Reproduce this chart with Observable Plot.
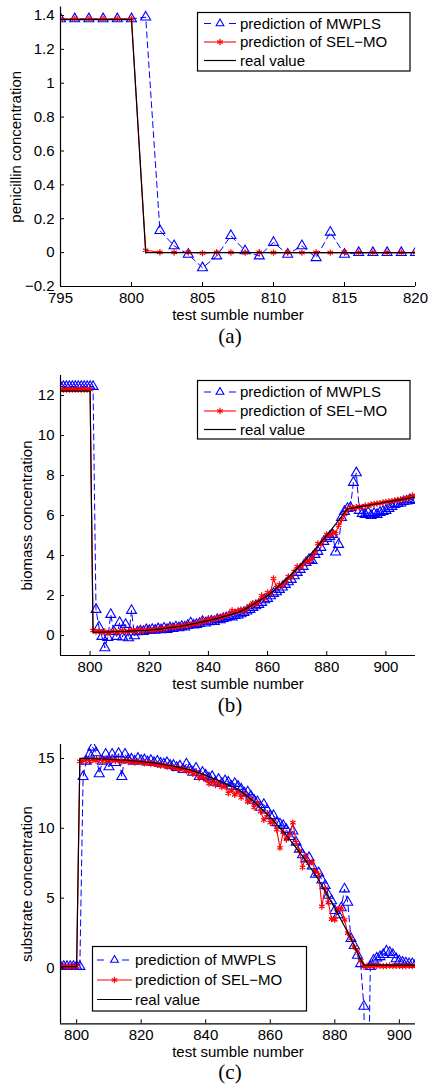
<!DOCTYPE html>
<html><head><meta charset="utf-8">
<script src="https://cdn.jsdelivr.net/npm/d3@7"></script>
<script src="https://cdn.jsdelivr.net/npm/@observablehq/plot@0.6"></script>
<style>
html,body{margin:0;padding:0;background:#fff;}
#root{position:relative;width:430px;height:1084px;overflow:hidden;font-family:"Liberation Sans",Arial,sans-serif;}
.panel{position:absolute;left:0;}
#leg{position:absolute;left:0;top:0;pointer-events:none;}
</style></head><body><div id="root"></div>
<script>
// ---------------- DATA ----------------
const seriesNames = ["prediction of MWPLS", "prediction of SEL\u2212MO", "real value"];
const xLabel = "test sumble number";
const captions = ["(a)", "(b)", "(c)"];

// (a) penicillin, samples 795..820
const startA = 795;
const mwplsA = [1.38,1.38,1.38,1.38,1.38,1.38,1.39,0.13,0.04,-0.01,-0.09,-0.02,0.10,0.01,-0.02,0.06,-0.01,0.04,-0.03,0.12,-0.01,0,0,0,0,0];
const selmoA = [1.38,1.38,1.38,1.38,1.38,1.38,0.014,0.002,0.001,0.002,-0.003,0.001,0.001,0.000,0.001,0.000,0.001,0.000,0.001,0.000,0.001,0.000,0.000,0.000,0.000,0.000];
const realA  = [1.375,1.375,1.375,1.375,1.375,1.375,0,0,0,0,0,0,0,0,0,0,0,0,0,0,0,0,0,0,0,0];
const xTicksA = [795,800,805,810,815,820];
const yTicksA = [-0.2,0,0.2,0.4,0.6,0.8,1,1.2,1.4];

// (b) biomass, samples 790..910
const startB = 790;
const mwplsB = [12.45,12.45,12.45,12.45,12.45,12.45,12.45,12.45,12.45,12.45,12.45,12.45,
1.30,0.42,-0.05,-0.62,-0.10,1.05,0.20,-0.05,0.65,-0.08,0.55,-0.12,1.25,-0.02,0.18,0.22,0.20,0.28,0.25,
0.30,0.26,0.33,0.28,0.36,0.30,0.38,0.35,0.42,0.38,
0.45,0.42,0.50,0.62,0.52,0.55,0.60,0.70,0.62,0.68,
0.72,0.70,0.80,0.78,0.85,0.88,0.95,0.92,1.00,1.02,
1.08,1.15,1.22,1.30,1.40,1.48,1.55,1.65,1.78,1.85,
1.98,2.10,2.18,2.30,2.42,2.55,2.68,2.80,2.98,3.15,
3.30,3.45,3.65,3.80,3.75,4.05,4.20,4.40,4.70,4.85,
4.95,5.05,4.17,4.55,5.90,6.20,6.35,6.40,7.65,8.13,
6.25,6.10,6.05,6.15,6.00,6.10,6.05,6.15,6.20,6.25,
6.35,6.45,6.55,6.60,6.62,6.70,6.72,6.78,6.80,6.75];
const selmoB = [12.3,12.3,12.3,12.3,12.3,12.3,12.3,12.3,12.3,12.3,12.3,
0.25,0.18,0.22,0.15,0.20,0.12,0.18,0.22,0.15,0.20,
0.25,0.18,0.22,0.28,0.20,0.25,0.30,0.22,0.28,0.30,
0.25,0.32,0.30,0.35,0.32,0.38,0.42,0.45,0.40,0.48,
0.45,0.52,0.50,0.55,0.60,0.58,0.62,0.75,0.70,0.85,
0.78,0.82,0.90,0.88,0.98,1.00,1.05,1.25,1.15,1.25,
1.30,1.22,1.35,1.48,1.62,1.55,1.70,2.00,1.85,2.15,
2.10,2.85,2.40,2.55,2.50,2.70,2.95,2.90,3.20,3.45,
3.40,3.55,3.75,3.70,3.85,4.15,4.60,4.55,4.80,5.05,
5.00,5.15,5.10,5.50,5.80,6.05,6.30,6.40,6.35,6.42,
6.45,6.42,6.50,6.48,6.55,6.58,6.60,6.62,6.65,6.68,
6.70,6.72,6.75,6.78,6.80,6.82,6.85,6.90,7.00,6.95];
const realB = [12.22,12.22,12.22,12.22,12.22,12.22,12.22,12.22,12.22,12.22,12.22,
0.15,0.16,0.16,0.17,0.17,0.18,0.18,0.19,0.19,0.20,
0.20,0.21,0.22,0.22,0.23,0.24,0.25,0.25,0.26,0.27,
0.29,0.30,0.32,0.33,0.35,0.37,0.39,0.41,0.43,0.45,
0.48,0.50,0.53,0.56,0.59,0.62,0.65,0.68,0.72,0.75,
0.79,0.82,0.86,0.90,0.94,0.98,1.02,1.06,1.11,1.15,
1.22,1.29,1.37,1.45,1.54,1.63,1.72,1.81,1.90,2.00,
2.12,2.24,2.37,2.50,2.63,2.76,2.90,3.05,3.20,3.35,
3.50,3.66,3.82,3.98,4.14,4.31,4.48,4.65,4.82,5.00,
5.19,5.38,5.57,5.76,5.95,6.14,6.33,
6.36,6.38,6.41,6.43,6.46,6.49,6.51,6.54,6.56,6.59,
6.61,6.64,6.67,6.69,6.72,6.74,6.77,6.79,6.82,6.84,
6.87,6.90,6.92];
const xTicksB = [800,820,840,860,880,900];
const yTicksB = [0,2,4,6,8,10,12];

// (c) substrate, samples 795..905
const startC = 795;
const mwplsC = [0.1,0.1,0.1,0.1,0.1,0.1,0.1,
13.7,14.8,15.3,15.8,15.4,13.9,14.8,15.3,14.4,15.3,14.7,15.35,13.7,15.3,14.9,14.95,14.8,15.0,14.85,
14.9,14.75,14.85,14.7,14.8,14.65,14.6,14.7,14.5,14.5,
14.35,14.45,14.2,14.6,14.25,14.0,14.3,13.7,14.0,13.8,
13.6,13.7,13.3,13.5,13.2,13.4,13.3,13.0,13.2,13.0,
12.8,12.5,12.6,12.3,12.0,11.9,11.5,11.7,11.3,10.9,
10.9,10.4,10.3,10.2,9.9,9.4,9.8,9.0,8.5,8.1,
7.8,7.9,7.3,6.7,6.8,6.3,5.9,5.2,4.8,4.1,
3.8,4.3,5.65,4.7,2.1,1.6,0.9,0.3,-2.75,-15,
0.1,0.55,0.7,0.8,0.95,1.2,1.1,0.95,0.65,0.5,
0.4,0.35,0.3,0.3,0.25];
const selmoC = [0.1,0.1,0.1,0.1,0.1,0.1,
14.8,14.85,14.9,14.8,14.9,14.85,14.95,14.8,14.9,14.85,
14.9,14.82,14.88,14.78,14.85,14.75,14.82,14.7,14.78,14.72,
14.65,14.7,14.6,14.62,14.55,14.5,14.52,14.4,14.42,14.3,
14.35,14.2,14.25,14.1,14.15,13.9,14.0,13.6,13.75,13.5,
13.2,13.4,13.1,13.25,12.95,13.0,12.5,12.75,12.4,12.6,
12.2,12.45,11.9,12.1,11.5,11.8,11.2,10.6,11.0,10.4,
10.5,9.9,8.6,9.7,9.2,9.5,10.4,9.0,8.4,7.2,
8.0,7.5,7.6,6.9,6.7,4.4,5.7,4.7,3.5,3.45,
4.2,4.3,3.45,2.5,2.1,1.5,1.2,0.5,0.1,
0.15,0.12,0.18,0.14,0.16,0.12,0.15,0.17,0.13,0.15,0.16,0.12,0.14,0.15,0.13,0.16];
const realC = [0.1,0.1,0.1,0.1,0.1,0.1,
15.00,15.00,14.99,14.99,14.98,14.98,14.97,14.96,14.96,14.95,
14.93,14.92,14.90,14.89,14.88,14.86,14.84,14.82,14.80,14.78,
14.75,14.73,14.70,14.68,14.65,14.61,14.57,14.53,14.49,14.45,
14.40,14.35,14.30,14.25,14.20,14.12,14.04,13.96,13.88,13.80,
13.70,13.60,13.50,13.40,13.30,13.20,13.10,13.00,12.90,12.80,
12.62,12.44,12.26,12.08,11.90,11.68,11.46,11.24,11.02,10.80,
10.54,10.28,10.02,9.76,9.50,9.20,8.90,8.60,8.30,8.00,
7.66,7.32,6.98,6.64,6.30,5.90,5.50,5.10,4.70,4.30,
3.86,3.42,2.98,2.54,2.10,1.60,1.10,0.60,0.20,
0.2,0.2,0.2,0.2,0.2,0.2,0.2,0.2,0.2,0.2,0.2,0.2,0.2,0.2,0.2,0.2];
const xTicksC = [800,820,840,860,880,900];
const yTicksC = [0,5,10,15];

// ---------------- DRAWING ----------------
const FONT = '"Liberation Sans", Arial, Helvetica, sans-serif';
const SERIF = '"Liberation Serif", "Times New Roman", serif';
const BLUE = "#0000ff", RED = "#ff0000", BLACK = "#000000";
const TRI_R = 3.7;
const root = document.getElementById("root");
const toRows = (start, vals) => vals.map((v, i) => ({x: start + i, y: v}));
const fmt = d3.format("~g");

function panel(cfg) {
  const mw = toRows(cfg.start, cfg.mw), sel = toRows(cfg.start, cfg.sel), real = toRows(cfg.start, cfg.real);
  const svg = Plot.plot({
    width: 430, height: cfg.height,
    marginLeft: 60, marginRight: 15, marginTop: cfg.mt, marginBottom: cfg.mb,
    style: {fontFamily: FONT, fontSize: "15px", background: "transparent", overflow: "visible", color: "#000"},
    x: {domain: cfg.xDomain},
    y: {domain: cfg.yDomain},
    marks: [
      Plot.line(mw, {x: "x", y: "y", stroke: BLUE, strokeWidth: 1, strokeDasharray: "6,4", clip: true}),
      Plot.dot(mw, {x: "x", y: "y", symbol: "triangle", r: TRI_R, stroke: BLUE, fill: "none", strokeWidth: 1.1, clip: true}),
      Plot.line(sel, {x: "x", y: "y", stroke: RED, strokeWidth: 1.1, clip: true}),
      Plot.dot(sel, {x: "x", y: "y", symbol: "asterisk", r: 3, stroke: RED, strokeWidth: 1.2, clip: true}),
      Plot.line(real, {x: "x", y: "y", stroke: BLACK, strokeWidth: 1.2, clip: true}),
      Plot.ruleX([cfg.xDomain[0]], {stroke: BLACK, strokeWidth: 1.2}),
      Plot.ruleY([cfg.yDomain[0]], {stroke: BLACK, strokeWidth: 1.2}),
      Plot.axisX(cfg.xTicks, {tickSize: -4, tickPadding: 10, label: null, tickFormat: fmt, fontSize: 15}),
      Plot.axisY(cfg.yTicks, {tickSize: -4, tickPadding: 10, label: null, tickFormat: fmt, fontSize: 15}),
      Plot.text([xLabel], {frameAnchor: "bottom", dy: 23, lineAnchor: "top", fontSize: 15}),
      Plot.text([cfg.ylabel], {frameAnchor: "left", dx: cfg.ylabelDx, rotate: -90, textAnchor: "middle", lineAnchor: "middle", fontSize: 15})
    ]
  });
  svg.classList.add("panel");
  svg.style.top = cfg.top + "px";
  root.appendChild(svg);
}

panel({start: startA, mw: mwplsA, sel: selmoA, real: realA, xDomain: [795, 820], yDomain: [-0.2, 1.45],
  xTicks: xTicksA, yTicks: yTicksA, top: 0, height: 325, mt: 6.5, mb: 39,
  ylabel: "penicillin concentration", ylabelDx: -44});
panel({start: startB, mw: mwplsB, sel: selmoB, real: realB, xDomain: [790, 910], yDomain: [-1, 13],
  xTicks: xTicksB, yTicks: yTicksB, top: 365, height: 330, mt: 10, mb: 40,
  ylabel: "biomass concentration", ylabelDx: -33});
panel({start: startC, mw: mwplsC, sel: selmoC, real: realC, xDomain: [795, 905], yDomain: [-4, 16],
  xTicks: xTicksC, yTicks: yTicksC, top: 734, height: 330, mt: 10, mb: 40.7,
  ylabel: "substrate concentration", ylabelDx: -33});

// ---------------- LEGENDS & CAPTIONS ----------------
const leg = d3.select(root).append("svg").attr("id", "leg").attr("width", 430).attr("height", 1084);
const tri = d3.symbol(d3.symbolTriangle2, Math.PI * TRI_R * TRI_R)();
const ast = d3.symbol(d3.symbolAsterisk, Math.PI * 9)();
function legend(box, rows, lx0, lx1, tx) {
  leg.append("rect").attr("x", box[0]).attr("y", box[1]).attr("width", box[2]).attr("height", box[3])
    .attr("fill", "#fff").attr("stroke", BLACK).attr("stroke-width", 1.2);
  const mx = (lx0 + lx1) / 2;
  leg.append("line").attr("x1", lx0).attr("x2", lx1).attr("y1", rows[0]).attr("y2", rows[0])
    .attr("stroke", BLUE).attr("stroke-dasharray", "7,18");
  leg.append("path").attr("d", tri).attr("transform", `translate(${mx},${rows[0]})`).attr("fill", "none").attr("stroke", BLUE).attr("stroke-width", 1.1);
  leg.append("line").attr("x1", lx0).attr("x2", lx1).attr("y1", rows[1]).attr("y2", rows[1])
    .attr("stroke", RED).attr("stroke-width", 1.1);
  leg.append("path").attr("d", ast).attr("transform", `translate(${mx},${rows[1]})`).attr("fill", "none").attr("stroke", RED).attr("stroke-width", 1.2);
  leg.append("line").attr("x1", lx0).attr("x2", lx1).attr("y1", rows[2]).attr("y2", rows[2])
    .attr("stroke", BLACK).attr("stroke-width", 1.2);
  seriesNames.forEach((s, i) => {
    leg.append("text").attr("x", tx).attr("y", rows[i]).attr("dy", "0.35em")
      .attr("font-family", FONT).attr("font-size", 15).attr("fill", BLACK).text(s);
  });
}
legend([197.5, 12.5, 212.5, 58.5], [23.5, 42, 60.5], 204, 236, 240);
legend([197.5, 380.5, 212.5, 58.5], [392, 411, 429.5], 204, 236, 240);
legend([92.5, 946.5, 214, 64.5], [960, 980, 999.5], 97, 132, 135);

const capBaselines = [342.5, 711.5, 1078.5];
captions.forEach((c, i) => {
  leg.append("text").attr("x", 230).attr("y", capBaselines[i]).attr("text-anchor", "middle")
    .attr("font-family", SERIF).attr("font-size", 21).attr("fill", BLACK).text(c);
});
</script></body></html>
